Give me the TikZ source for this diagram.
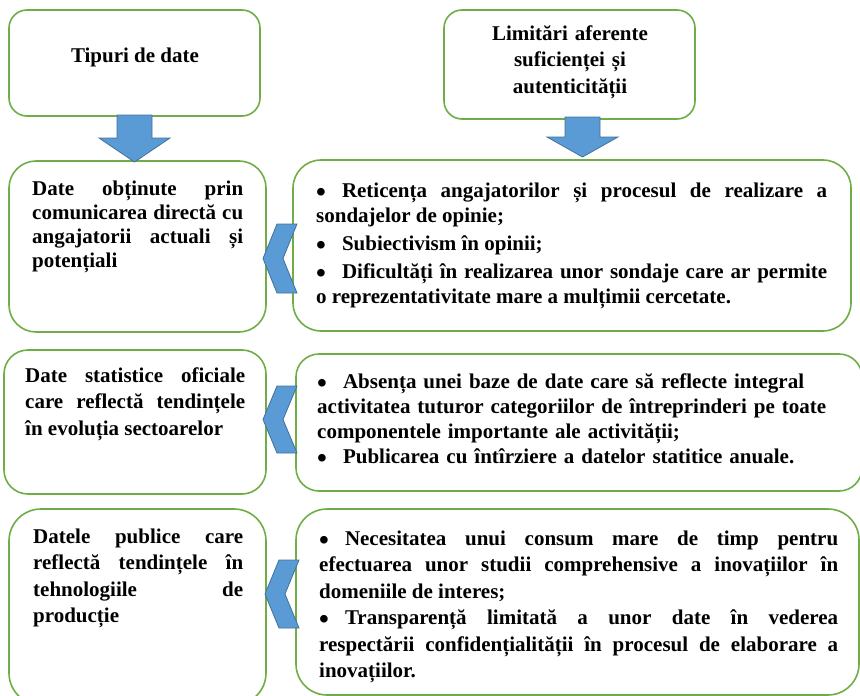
\documentclass[tikz,border=0pt]{standalone}
\usepackage{fontspec}
\setmainfont{Liberation Serif}
\definecolor{boxgreen}{RGB}{112,173,71}
\definecolor{arrowfill}{RGB}{91,155,213}
\definecolor{arrowline}{RGB}{65,113,156}
\tikzset{
  box/.style={draw=boxgreen, line width=1.6pt, rectangle, inner sep=0pt},
  txt/.style={inner sep=0pt, anchor=base west, align=justify,
    font=\fontsize{21}{25}\selectfont\bfseries},
  widetxt/.style={txt, font=\fontsize{21}{26.5}\selectfont\bfseries},
  blockarrow/.style={fill=arrowfill, draw=arrowline, line width=0.8pt}
}
\newcommand{\itm}{\raisebox{-4pt}{\fontsize{28}{28}\selectfont\textbullet}\hspace{16pt}}
\begin{document}
\begin{tikzpicture}[x=1pt,y=-1pt]
    \useasboundingbox (0,0) rectangle (860,696);
    % casete
    \node[box, minimum width=251, minimum height=106, rounded corners=18] (tipuri) at (134.5,63) {};
    \node[box, minimum width=251, minimum height=109, rounded corners=18] (limitari) at (569.5,64.5) {};
    \node[box, minimum width=257, minimum height=171, rounded corners=27] (obtinute) at (137.5,246.5) {};
    \node[box, minimum width=558, minimum height=171, rounded corners=28] (reticenta) at (572,245.5) {};
    \node[box, minimum width=262, minimum height=144, rounded corners=24] (statistice) at (135,422) {};
    \node[box, minimum width=566, minimum height=137, rounded corners=23] (absenta) at (579,422.5) {};
    \node[box, minimum width=257, minimum height=196, rounded corners=32] (publice) at (137.5,607) {};
    \node[box, minimum width=563, minimum height=186, rounded corners=31] (necesitate) at (577.5,602) {};
    % texte
    \node[txt, anchor=base] (tipuri-t) at (135,62) {Tipuri de date};
    \node[widetxt, anchor=base, align=center, text width=240] (limitari-t) at (570,40)
      {Limitări aferente\\ suficienței și\\ autenticității};
    \node[txt, text width=211, font=\fontsize{21}{24.3}\selectfont\bfseries] (obtinute-t) at (32,195)
      {Date obținute prin\linebreak comunicarea directă cu\linebreak angajatorii actuali și\linebreak potențiali};
    \node[txt, text width=511] (reticenta-t) at (316,197)
      {\setlength{\parskip}{3pt}\itm Reticența angajatorilor și procesul de realizare a\linebreak sondajelor de opinie;\par
       \itm Subiectivism în opinii;\par
       \itm Dificultăți în realizarea unor sondaje care ar permite\linebreak o reprezentativitate mare a mulțimii cercetate.};
    \node[widetxt, text width=220] (statistice-t) at (25,382)
      {Date statistice oficiale\linebreak care reflectă tendințele\linebreak în evoluția sectoarelor};
    \node[txt, text width=525, align=left] (absenta-t) at (317,388)
      {\itm Absența unei baze de date care să reflecte integral\\ activitatea tuturor categoriilor de întreprinderi pe toate\\ componentele importante ale activității;\\
       \itm Publicarea cu întîrziere a datelor statitice anuale.};
    \node[widetxt, text width=210] (publice-t) at (33,543)
      {Datele publice care\linebreak reflectă tendințele în\linebreak tehnologiile de\linebreak producție};
    \node[widetxt, text width=519] (necesitate-t) at (319,545)
      {\itm Necesitatea unui consum mare de timp pentru\linebreak efectuarea unor studii comprehensive a inovațiilor în\linebreak domeniile de interes;\par
       \itm Transparență limitată a unor date în vederea\linebreak respectării confidențialității în procesul de elaborare a\linebreak inovațiilor.};
    % sageti in jos
    \foreach \x/\yt/\yh/\yb in {134.5/115/138/162, 582.5/117/137/157}
      \draw[blockarrow] (\x-17.5,\yt) -- (\x+17.5,\yt) -- (\x+17.5,\yh) -- (\x+35.5,\yh)
        -- (\x,\yb) -- (\x-35.5,\yh) -- (\x-17.5,\yh) -- cycle;
    % chevroane
    \foreach \x/\y/\h in {263/258.5/34.5, 263/419.5/33.5, 265/594/34}
      \draw[blockarrow] (\x,\y) -- (\x+14,\y-\h) -- (\x+34,\y-\h) -- (\x+20,\y)
        -- (\x+34,\y+\h) -- (\x+14,\y+\h) -- cycle;
\end{tikzpicture}
\end{document}
